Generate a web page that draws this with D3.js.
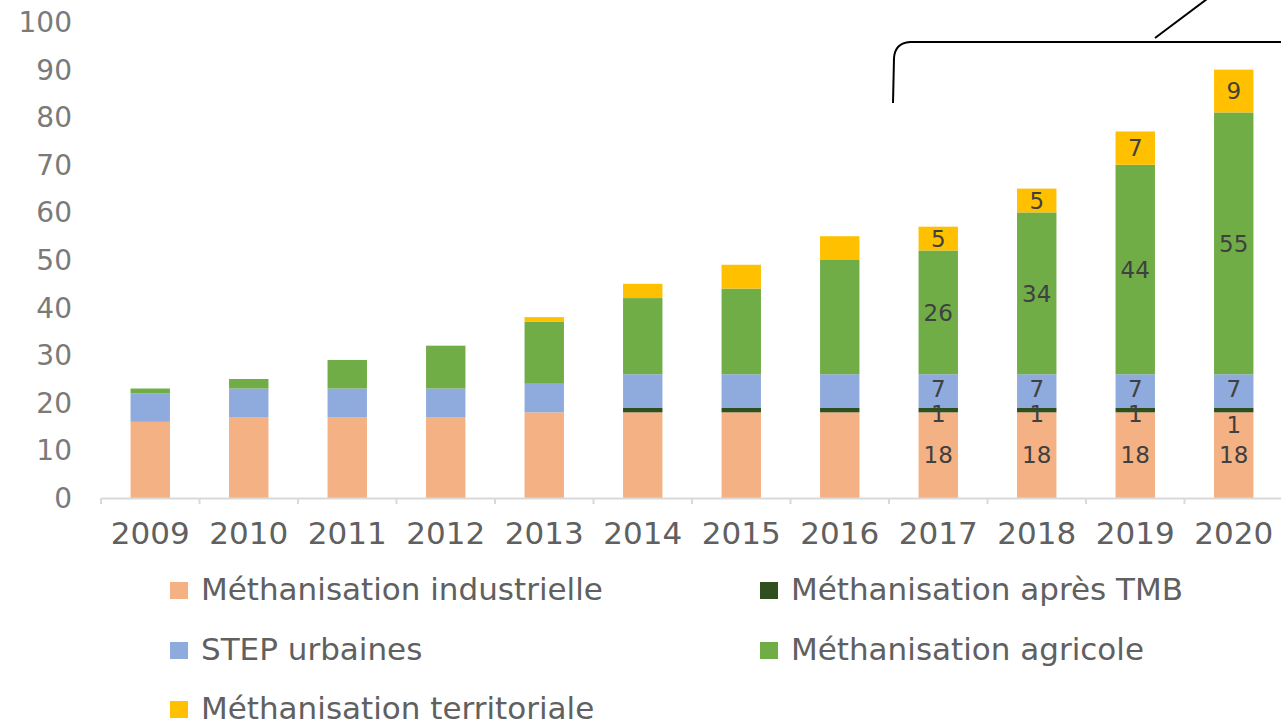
<!DOCTYPE html>
<html>
<head>
<meta charset="utf-8">
<script src="https://cdn.jsdelivr.net/npm/d3@7"></script>
<style>
  body { margin: 0; background: #fff; }
  text { font-family: "DejaVu Sans", sans-serif; }
</style>
</head>
<body>
<script>
// données
const years = ["2009","2010","2011","2012","2013","2014","2015","2016","2017","2018","2019","2020"];
const industrielle = [16, 17, 17, 17, 18, 18, 18, 18, 18, 18, 18, 18];
const tmb          = [0, 0, 0, 0, 0, 1, 1, 1, 1, 1, 1, 1];
const step         = [6, 6, 6, 6, 6, 7, 7, 7, 7, 7, 7, 7];
const agricole     = [1, 2, 6, 9, 13, 16, 18, 24, 26, 34, 44, 55];
const territoriale = [0, 0, 0, 0, 1, 3, 5, 5, 5, 5, 7, 9];
const seriesNames = ["Méthanisation industrielle", "Méthanisation après TMB", "STEP urbaines", "Méthanisation agricole", "Méthanisation territoriale"];
const seriesKeys = ["ind", "tmb", "step", "agr", "ter"];
const colors = ["#F4B183", "#2F4F1F", "#8FAADC", "#70AD47", "#FFC000"];
const yTicks = [0, 10, 20, 30, 40, 50, 60, 70, 80, 90, 100];
const labelYears = ["2017", "2018", "2019", "2020"];

const W = 1281, H = 728;
const svg = d3.select("body").append("svg").attr("width", W).attr("height", H);

const rows = years.map((y, i) => ({
  year: y, ind: industrielle[i], tmb: tmb[i], step: step[i], agr: agricole[i], ter: territoriale[i]
}));

const x = d3.scaleBand().domain(years).range([101, 1283]).paddingInner(0.6).paddingOuter(0.3);
const y = d3.scaleLinear().domain([0, 100]).range([498, 22]);

const stack = d3.stack().keys(seriesKeys)(rows);

// axe y (texte seul)
svg.append("g").selectAll("text").data(yTicks).enter().append("text")
  .attr("x", 72).attr("y", d => y(d)).attr("dy", "0.36em")
  .attr("text-anchor", "end").attr("fill", "#7a7a7a").style("font-size", "28px")
  .text(d => d);

// barres
const layer = svg.selectAll(".layer").data(stack).enter().append("g")
  .attr("fill", (d, i) => colors[i]);
layer.selectAll("rect").data(d => d).enter().append("rect")
  .attr("x", d => x(d.data.year))
  .attr("width", x.bandwidth())
  .attr("y", d => y(d[1]))
  .attr("height", d => y(d[0]) - y(d[1]));

// axe x
const xAxis = d3.axisBottom(x).tickSize(0).tickPadding(24);
const gx = svg.append("g").attr("transform", "translate(0,498)").call(xAxis);
gx.select(".domain").attr("stroke", "#d9d9d9").attr("stroke-width", 2);
gx.selectAll("text").attr("fill", "#606060").style("font-size", "31px").style("font-family", "DejaVu Sans");
const step_ = x.step();
const bounds = d3.range(years.length + 1).map(i => x.range()[0] + i * step_);
gx.selectAll(".sep").data(bounds).enter().append("line")
  .attr("x1", d => d).attr("x2", d => d).attr("y1", 0).attr("y2", 6)
  .attr("stroke", "#d9d9d9").attr("stroke-width", 2);

// étiquettes de données
stack.forEach((s, si) => {
  s.forEach(d => {
    if (!labelYears.includes(d.data.year)) return;
    const v = d[1] - d[0];
    if (v <= 0) return;
    let cy = (y(d[0]) + y(d[1])) / 2;
    if (seriesKeys[si] === "tmb") cy += (d.data.year === "2020") ? 15 : 4;
    if (seriesKeys[si] === "step") cy -= 2;
    svg.append("text")
      .attr("x", x(d.data.year) + x.bandwidth() / 2)
      .attr("y", cy).attr("dy", "0.36em")
      .attr("text-anchor", "middle").attr("fill", "#404040")
      .style("font-size", "23px")
      .text(v);
  });
});

// légende
const legendPos = [[170, 600], [760, 600], [170, 660], [760, 660], [170, 719]];
const lg = svg.append("g").selectAll("g").data(seriesNames).enter().append("g")
  .attr("transform", (d, i) => `translate(${legendPos[i][0]},${legendPos[i][1]})`);
lg.append("rect").attr("x", 0).attr("y", -18).attr("width", 18).attr("height", 17)
  .attr("fill", (d, i) => colors[i]);
lg.append("text").attr("x", 31).attr("y", 0).attr("fill", "#606060")
  .style("font-size", "31px").text(d => d);

// annotation (accolade et trait)
svg.append("path")
  .attr("d", "M893,103 L894,58 Q895,43 910,42 L1283,42")
  .attr("fill", "none").attr("stroke", "#000").attr("stroke-width", 2);
svg.append("line").attr("x1", 1155).attr("y1", 38).attr("x2", 1207).attr("y2", -1)
  .attr("stroke", "#000").attr("stroke-width", 2);
</script>
</body>
</html>
